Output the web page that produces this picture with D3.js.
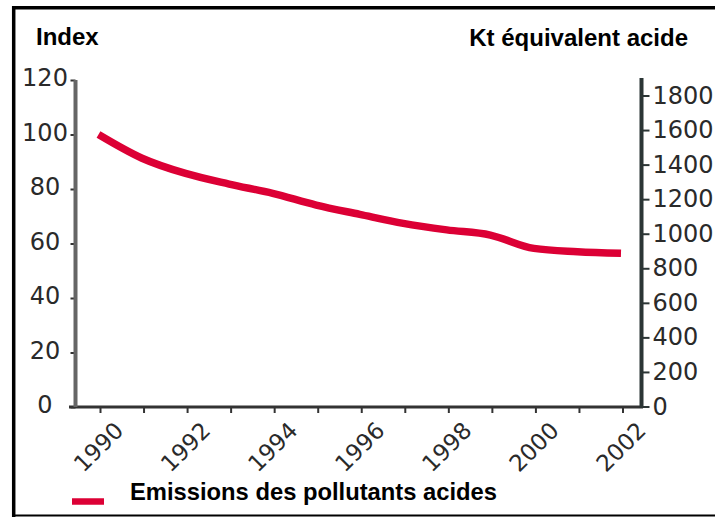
<!DOCTYPE html>
<html>
<head>
<meta charset="utf-8">
<script src="https://cdn.jsdelivr.net/npm/d3@7"></script>
<style>
  html, body { margin: 0; padding: 0; background: #fff; }
  svg { display: block; }
</style>
</head>
<body>
<svg id="chart" width="715" height="517"></svg>
<script>
// ---- data ----
const years = [1990, 1991, 1992, 1993, 1994, 1995, 1996, 1997, 1998, 1999, 2000, 2001, 2002];
const indexValues = [100, 91.3, 85.7, 81.8, 78.4, 74.1, 70.7, 67.4, 65.0, 63.1, 58.2, 57.0, 56.4];
const yearLabels = [1990, 1992, 1994, 1996, 1998, 2000, 2002];
const leftTicks = [0, 20, 40, 60, 80, 100, 120];
const rightTicks = [0, 200, 400, 600, 800, 1000, 1200, 1400, 1600, 1800];
const seriesName = "Emissions des pollutants acides";
const leftTitle = "Index";
const rightTitle = "Kt équivalent acide";

const svg = d3.select("#chart");
const lineColor = "#dc0035";
const numFont = "'DejaVu Sans', Verdana, sans-serif";
const boldFont = "'Liberation Sans', Arial, sans-serif";

// frame
svg.append("line").attr("x1", 13.7).attr("x2", 715).attr("y1", 7.8).attr("y2", 7.8)
  .attr("stroke", "#000").attr("stroke-width", 3.5);
svg.append("line").attr("x1", 13.7).attr("x2", 13.7).attr("y1", 6).attr("y2", 517)
  .attr("stroke", "#000").attr("stroke-width", 3.5);
svg.append("line").attr("x1", 12).attr("x2", 715).attr("y1", 515.5).attr("y2", 515.5)
  .attr("stroke", "#000").attr("stroke-width", 2);

// scales
const x = d3.scaleLinear().domain([1990, 2002]).range([98.5, 621]);
const yL = d3.scaleLinear().domain([0, 120]).range([407, 80]);
const yR = d3.scaleLinear().domain([0, 1800]).range([406.5, 95.5]);

// x axis
const xAxis = d3.axisBottom(x).tickValues(years).tickSize(6).tickSizeOuter(0).tickFormat("");
const gx = svg.append("g").attr("transform", "translate(1.5,407)").call(xAxis);
gx.select(".domain").remove();
gx.selectAll(".tick line").attr("stroke", "#333").attr("stroke-width", 2);
gx.append("line").attr("x1", 67.5).attr("x2", 641.5).attr("y1", 0).attr("y2", 0)
  .attr("stroke", "#333").attr("stroke-width", 3);

gx.selectAll(".yl").data(yearLabels).join("text")
  .attr("class", "yl")
  .attr("transform", d => `translate(${x(d) - 1.5},40) rotate(-45)`)
  .attr("text-anchor", "middle")
  .attr("dominant-baseline", "central")
  .attr("font-family", numFont)
  .attr("font-size", 23)
  .attr("fill", "#2a2a2a")
  .text(d => d);

// left axis
const lAxis = d3.axisLeft(yL).tickValues(leftTicks).tickSize(5).tickSizeOuter(0).tickFormat("");
const gl = svg.append("g").attr("transform", "translate(75.5,0)").call(lAxis);
gl.select(".domain").remove();
gl.selectAll(".tick line").attr("stroke", "#333").attr("stroke-width", 2);
gl.append("line").attr("x1", 0).attr("x2", 0).attr("y1", yL(120)).attr("y2", yL(0))
  .attr("stroke", "#666").attr("stroke-width", 4);
gl.selectAll(".ll").data(leftTicks).join("text")
  .attr("class", "ll")
  .attr("x", 45 - 75.5)
  .attr("y", d => yL(d) - 2)
  .attr("text-anchor", "middle")
  .attr("dominant-baseline", "central")
  .attr("font-family", numFont)
  .attr("font-size", 24)
  .attr("fill", "#2a2a2a")
  .text(d => d);

// right axis
const rAxis = d3.axisRight(yR).tickValues(rightTicks).tickSize(8).tickSizeOuter(0).tickFormat("");
const gr = svg.append("g").attr("transform", "translate(641.5,0)").call(rAxis);
gr.select(".domain").remove();
gr.selectAll(".tick line").attr("stroke", "#2b3535").attr("stroke-width", 2);
gr.append("line").attr("x1", 0).attr("x2", 0).attr("y1", 78).attr("y2", yR(0) + 1.5)
  .attr("stroke", "#2b3535").attr("stroke-width", 4);
gr.selectAll(".rl").data(rightTicks).join("text")
  .attr("class", "rl")
  .attr("x", 11)
  .attr("y", d => yR(d))
  .attr("text-anchor", "start")
  .attr("dominant-baseline", "central")
  .attr("font-family", numFont)
  .attr("font-size", 24)
  .attr("fill", "#2a2a2a")
  .text(d => d);

// line
const line = d3.line().x((d, i) => x(years[i])).y(d => yL(d)).curve(d3.curveMonotoneX);
svg.append("path").datum(indexValues)
  .attr("d", line)
  .attr("fill", "none")
  .attr("stroke", lineColor)
  .attr("stroke-width", 7.5)
  .attr("stroke-linejoin", "round")
  .attr("stroke-linecap", "butt");

// titles
svg.append("text").attr("x", 36).attr("y", 44.5)
  .attr("font-family", boldFont).attr("font-weight", "bold").attr("font-size", 24)
  .attr("fill", "#000").text(leftTitle);
svg.append("text").attr("x", 688).attr("y", 46).attr("text-anchor", "end")
  .attr("font-family", boldFont).attr("font-weight", "bold").attr("font-size", 24)
  .attr("fill", "#000").text(rightTitle);

// legend
svg.append("line").attr("x1", 72).attr("x2", 104).attr("y1", 501.5).attr("y2", 501.5)
  .attr("stroke", lineColor).attr("stroke-width", 6.5);
svg.append("text").attr("x", 130).attr("y", 499.5)
  .attr("font-family", boldFont).attr("font-weight", "bold").attr("font-size", 24)
  .attr("fill", "#000").attr("textLength", 367).attr("lengthAdjust", "spacingAndGlyphs")
  .text(seriesName);
</script>
</body>
</html>
